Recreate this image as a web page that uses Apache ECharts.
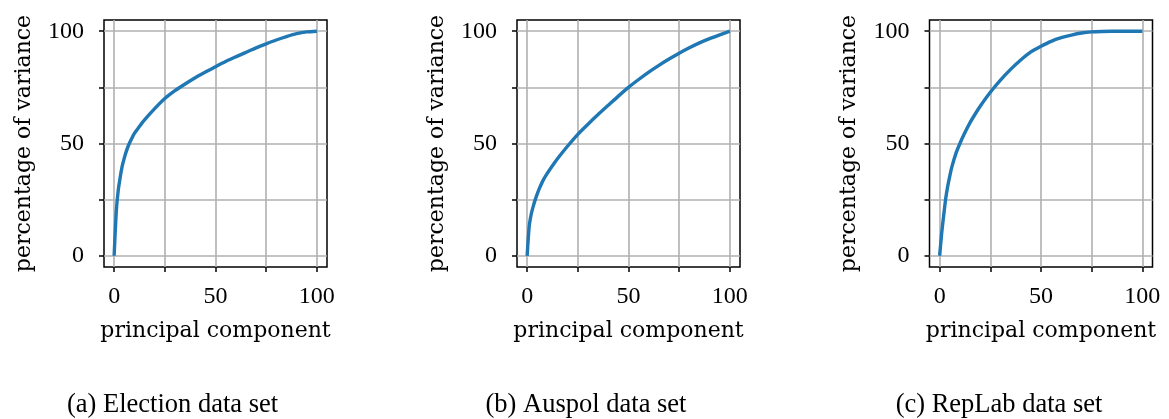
<!DOCTYPE html>
<html>
<head>
<meta charset="utf-8">
<script src="https://cdn.jsdelivr.net/npm/echarts@6/dist/echarts.min.js"></script>
<style>
html,body{margin:0;padding:0;background:#fff;}
#chart{width:1169px;height:419px;}
</style>
</head>
<body>
<div id="chart"></div>
<script>
// ---- data ----
const electionX = [0,1,2,3,4,5,6,7,8,10,12,15,20,25,30,35,40,45,50,55,60,65,70,75,80,85,90,95,100];
const electionY = [0,19,29,35,40,43.5,46.5,49,51,54.5,57,60.5,65.5,70,73.5,76.5,79.3,81.8,84.2,86.5,88.6,90.6,92.6,94.4,96.1,97.6,98.9,99.7,100];

const auspolX = [0,1,2,3,4,5,6,8,10,13,16,20,25,30,35,40,45,50,55,60,65,70,75,80,85,90,95,100];
const auspolY = [0,13,18.5,22,25,27.6,29.9,33.8,36.8,40.8,44.4,48.9,54.1,58.6,62.9,67,71.1,75,78.5,81.8,84.8,87.6,90.2,92.6,94.8,96.7,98.4,100];

const replabX = [0,1,2,3,4,5,6,8,10,12,15,18,20,25,30,35,40,45,50,55,60,65,70,75,80,85,90,95,100];
const replabY = [0,10,18,25.5,31,35.5,39.5,45.5,50,54,59.3,63.8,66.6,72.8,78.2,83,87.2,90.8,93.3,95.5,97.1,98.3,99.2,99.7,99.9,100,100,100,100];

const tickValues = [0,25,50,75,100];
const labelValues = [0,50,100];
const captions = ['(a) Election data set','(b) Auspol data set','(c) RepLab data set'];
const xName = 'principal component';
const yName = 'percentage of variance';

// ---- layout ----
const NAMEFONT = 'DejaVu Serif';
const TICKFONT = 'Liberation Serif';
const CAPFONT = 'Liberation Serif';
const gridLefts = [104, 517, 929.5];
const gridW = 223, gridTop = 20, gridH = 247;
const captionX = [172.5, 586, 999];
const seriesData = [[electionX, electionY],[auspolX, auspolY],[replabX, replabY]];

const grids = [], xAxes = [], yAxes = [], series = [], graphics = [];
for (let i = 0; i < 3; i++) {
  grids.push({left: gridLefts[i], top: gridTop, width: gridW, height: gridH,
    show: true, borderColor: '#000', borderWidth: 1.5, backgroundColor: 'transparent'});
  const axisCommon = {
    gridIndex: i, type: 'value', min: -5, max: 105,
    axisLine: {show: false, onZero: false},
    axisTick: {show: true, inside: false, length: 5, customValues: tickValues, lineStyle: {color: '#000', width: 1.5}},
    axisLabel: {customValues: labelValues, color: '#000', fontFamily: TICKFONT, fontSize: 24},
    splitLine: {show: true, lineStyle: {color: '#b0b0b0', width: 1.6}},
    nameLocation: 'middle',
    nameTextStyle: {color: '#000', fontFamily: NAMEFONT, fontSize: 22}
  };
  xAxes.push(Object.assign({}, axisCommon, {
    name: xName, nameGap: 53,
    axisLabel: Object.assign({}, axisCommon.axisLabel, {margin: 18})
  }));
  yAxes.push(Object.assign({}, axisCommon, {
    name: yName, nameGap: 69, nameRotate: 90,
    axisLabel: Object.assign({}, axisCommon.axisLabel, {margin: 20})
  }));
  const [xs, ys] = seriesData[i];
  series.push({
    type: 'line', xAxisIndex: i, yAxisIndex: i,
    data: xs.map((x, k) => [x, ys[k]]),
    showSymbol: false, smooth: 0.2, clip: true,
    lineStyle: {color: '#1f77b4', width: 3.4},
    itemStyle: {color: '#1f77b4'}
  });
  graphics.push({
    type: 'text', x: captionX[i], y: 405,
    style: {text: captions[i], fill: '#000', font: '26.5px "' + CAPFONT + '"', textAlign: 'center', textVerticalAlign: 'middle'}
  });
}

const chart = echarts.init(document.getElementById('chart'), null, {renderer: 'canvas'});
chart.setOption({
  animation: false,
  backgroundColor: '#fff',
  grid: grids, xAxis: xAxes, yAxis: yAxes, series: series,
  graphic: graphics
});
</script>
</body>
</html>
